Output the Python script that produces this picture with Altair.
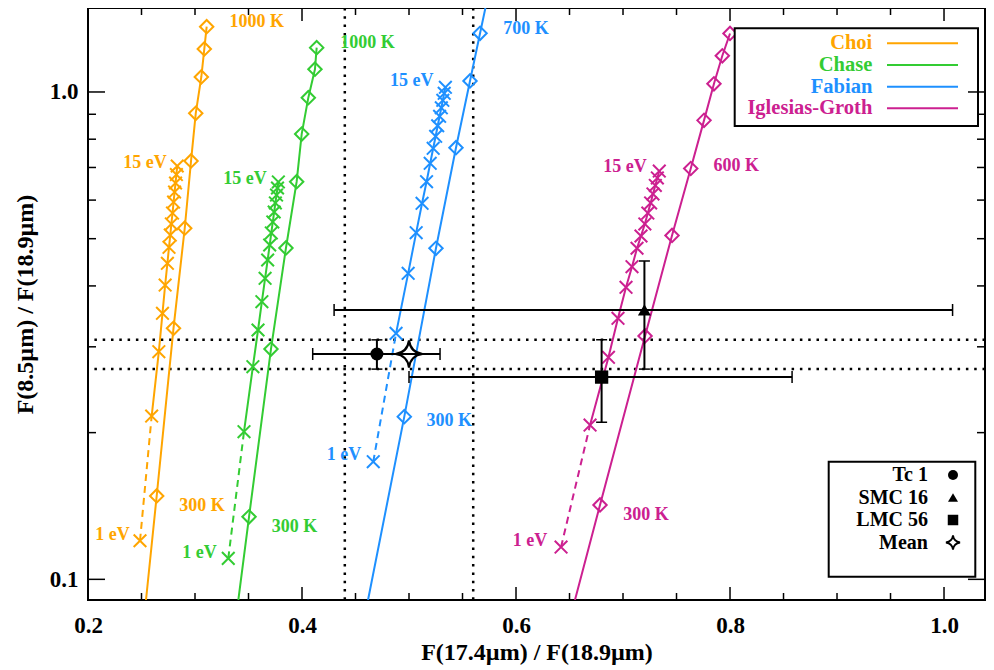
import altair as alt
import pandas as pd

SERIF = "Liberation Serif"

# ---------------- data ----------------
models = ["Choi", "Chase", "Fabian", "Iglesias-Groth"]
model_colors = ["#FFA500", "#33CC33", "#1E90FF", "#CC2090"]

ev_values = list(range(1, 16))
choi_ev_x = [0.2486, 0.2595, 0.2662, 0.2696, 0.2721, 0.2742, 0.2757, 0.2769, 0.2779, 0.2790, 0.2800, 0.2809, 0.2818, 0.2826, 0.2834]
choi_ev_y = [0.1200, 0.2163, 0.2932, 0.3514, 0.4017, 0.4451, 0.4801, 0.5087, 0.5360, 0.5645, 0.5946, 0.6233, 0.6505, 0.6770, 0.7049]
chase_ev_x = [0.3311, 0.3458, 0.3541, 0.3589, 0.3625, 0.3655, 0.3679, 0.3698, 0.3713, 0.3727, 0.3740, 0.3751, 0.3762, 0.3771, 0.3779]
chase_ev_y = [0.1104, 0.2009, 0.2731, 0.3248, 0.3713, 0.4147, 0.4521, 0.4853, 0.5137, 0.5411, 0.5672, 0.5919, 0.6146, 0.6353, 0.6536]
fabian_ev_x = [0.4666, 0.4879, 0.4992, 0.5067, 0.5122, 0.5164, 0.5198, 0.5226, 0.5249, 0.5268, 0.5286, 0.5302, 0.5316, 0.5329, 0.5340]
fabian_ev_y = [0.1743, 0.3197, 0.4245, 0.5144, 0.5910, 0.6545, 0.7140, 0.7665, 0.8111, 0.8525, 0.8916, 0.9281, 0.9616, 0.9938, 1.0224]
ig_ev_x = [0.6421, 0.6692, 0.6864, 0.6953, 0.7028, 0.7084, 0.7131, 0.7168, 0.7204, 0.7232, 0.7258, 0.7280, 0.7302, 0.7321, 0.7339]
ig_ev_y = [0.1165, 0.2073, 0.2855, 0.3432, 0.3974, 0.4380, 0.4779, 0.5064, 0.5360, 0.5645, 0.5919, 0.6177, 0.6429, 0.6661, 0.6884]

temps_1000 = [300, 400, 500, 600, 700, 800, 900, 1000]
temps_700 = [300, 400, 500, 600, 700]
choi_k_x = [0.2642, 0.2799, 0.2904, 0.2963, 0.3007, 0.3059, 0.3087, 0.3109]
choi_k_y = [0.1483, 0.3274, 0.5253, 0.7219, 0.9042, 1.0734, 1.2254, 1.3614]
chase_k_x = [0.3505, 0.3710, 0.3850, 0.3950, 0.3997, 0.4059, 0.4121, 0.4137]
chase_k_y = [0.1344, 0.2969, 0.4785, 0.6545, 0.8198, 0.9734, 1.1134, 1.2329]
fabian_k_x = [0.4956, 0.5252, 0.5439, 0.5570, 0.5664]
fabian_k_y = [0.2157, 0.4779, 0.7686, 1.0534, 1.3197]
ig_k_x = [0.6785, 0.7206, 0.7458, 0.7633, 0.7757, 0.7850, 0.7928, 0.8000]
ig_k_y = [0.1421, 0.3158, 0.5076, 0.6966, 0.8745, 1.0395, 1.1866, 1.3183]

# where the temperature lines leave the frame
kline_exit_bottom_x = [0.2542, 0.3405, 0.4617, 0.6551]
fabian_exit_top_x = 0.5714

x_domain = [0.2, 1.0383]
y_domain = [0.0907, 1.487]

obs_names = ["Tc 1", "SMC 16", "LMC 56", "Mean"]
obs_x = [0.470, 0.720, 0.680, 0.500]
obs_y = [0.290, 0.357, 0.260, 0.290]
err_names = ["Tc 1", "SMC 16", "LMC 56"]
err_xlo = [0.410, 0.430, 0.500]
err_xhi = [0.529, 1.008, 0.858]
err_ylo = [0.270, 0.270, 0.210]
err_yhi = [0.310, 0.450, 0.310]

mean_x_range = [0.44, 0.56]
mean_y_range = [0.27, 0.31]

ann_text = ["1000 K", "15 eV", "300 K", "1 eV",
            "1000 K", "15 eV", "300 K", "1 eV",
            "700 K", "15 eV", "300 K", "1 eV",
            "600 K", "15 eV", "300 K", "1 eV"]
ann_model = [m for m in models for _ in range(4)]
ann_x = [0.3577, 0.2533, 0.3065, 0.2229,
         0.4612, 0.3467, 0.3930, 0.3042,
         0.6093, 0.5025, 0.5377, 0.4393,
         0.8059, 0.7019, 0.7215, 0.6131]
ann_y = [1.394, 0.714, 0.1414, 0.1233,
         1.262, 0.663, 0.1278, 0.1131,
         1.345, 1.053, 0.2116, 0.1799,
         0.7049, 0.7026, 0.1358, 0.1199]

x_major = [0.2, 0.4, 0.6, 0.8, 1.0]
x_minor = [0.25, 0.3, 0.35, 0.45, 0.5, 0.55, 0.65, 0.7, 0.75, 0.85, 0.9, 0.95]
y_major = [0.1, 1.0]
y_minor = [0.2, 0.3, 0.4, 0.5, 0.6, 0.7, 0.8, 0.9]

# ---------------- tables ----------------
ev_rows = []
for m, xs_, ys_ in zip(models, [choi_ev_x, chase_ev_x, fabian_ev_x, ig_ev_x],
                       [choi_ev_y, chase_ev_y, fabian_ev_y, ig_ev_y]):
    for e, x, y in zip(ev_values, xs_, ys_):
        ev_rows.append({"model": m, "ev": e, "x": x, "y": y})
ev_df = pd.DataFrame(ev_rows)

k_rows = []
for m, ts, xs_, ys_ in zip(models, [temps_1000, temps_1000, temps_700, temps_1000],
                           [choi_k_x, chase_k_x, fabian_k_x, ig_k_x],
                           [choi_k_y, chase_k_y, fabian_k_y, ig_k_y]):
    for t, x, y in zip(ts, xs_, ys_):
        k_rows.append({"model": m, "T": t, "x": x, "y": y})
k_df = pd.DataFrame(k_rows)

kline_rows = list(k_rows)
for m, xb in zip(models, kline_exit_bottom_x):
    kline_rows.append({"model": m, "T": 0, "x": xb, "y": y_domain[0]})
kline_rows.append({"model": "Fabian", "T": 9999, "x": fabian_exit_top_x, "y": y_domain[1]})
kline_df = pd.DataFrame(kline_rows)

obs_df = pd.DataFrame({"name": obs_names, "x": obs_x, "y": obs_y})
err_df = pd.DataFrame({"name": err_names, "x": obs_x[:3], "y": obs_y[:3],
                       "xlo": err_xlo, "xhi": err_xhi, "ylo": err_ylo, "yhi": err_yhi})
ann_df = pd.DataFrame({"text": ann_text, "model": ann_model, "x": ann_x, "y": ann_y})
one = pd.DataFrame({"k": [0]})

# ---------------- encodings ----------------
W, H = 897, 592
xs = alt.Scale(domain=x_domain, nice=False, zero=False)
ys = alt.Scale(type="log", domain=y_domain, nice=False)
cs = alt.Scale(domain=models, range=model_colors)

xaxis = alt.Axis(values=x_major, format=".1f", ticks=False, domain=False, grid=False,
                 labelFont=SERIF, labelFontSize=23, labelFontWeight="bold", labelColor="black",
                 labelPadding=14, labelFlush=False,
                 title="F(17.4µm) / F(18.9µm)", titleFont=SERIF, titleFontSize=24,
                 titleFontWeight="bold", titleColor="black", titlePadding=3)
yaxis = alt.Axis(values=y_major, format=".1f", ticks=False, domain=False, grid=False,
                 labelFont=SERIF, labelFontSize=23, labelFontWeight="bold", labelColor="black",
                 labelPadding=10, labelFlush=False,
                 title="F(8.5µm) / F(18.9µm)", titleFont=SERIF, titleFontSize=24,
                 titleFontWeight="bold", titleColor="black", titlePadding=12)


def X(f="x"):
    return alt.X(f"{f}:Q", scale=xs, axis=xaxis)


def Y(f="y"):
    return alt.Y(f"{f}:Q", scale=ys, axis=yaxis)


C = alt.Color("model:N", scale=cs, legend=None)

X_SHAPE = "M-1,-1L1,1M-1,1L1,-1"
STAR = "M0,-1Q0.12,-0.12,1,0Q0.12,0.12,0,1Q-0.12,0.12,-1,0Q-0.12,-0.12,0,-1Z"

layers = []

# mean range dotted lines
dot = dict(color="black", strokeWidth=2.5, strokeDash=[2.5, 5.8])
layers.append(alt.Chart(pd.DataFrame({"v": mean_x_range})).mark_rule(**dot).encode(x=X("v")))
layers.append(alt.Chart(pd.DataFrame({"v": mean_y_range})).mark_rule(**dot).encode(y=Y("v")))

# model lines
layers.append(alt.Chart(kline_df).mark_line(strokeWidth=2, clip=True).encode(
    x=X(), y=Y(), color=C, order="T:Q"))
layers.append(alt.Chart(ev_df[ev_df.ev >= 2]).mark_line(strokeWidth=2, clip=True).encode(
    x=X(), y=Y(), color=C, order="ev:Q"))
layers.append(alt.Chart(ev_df[ev_df.ev <= 2]).mark_line(strokeWidth=2, strokeDash=[7, 5], clip=True).encode(
    x=X(), y=Y(), color=C, order="ev:Q"))

# model markers
layers.append(alt.Chart(ev_df).mark_point(shape=X_SHAPE, size=160, strokeWidth=2, filled=False, opacity=1).encode(
    x=X(), y=Y(), color=C))
layers.append(alt.Chart(k_df).mark_point(shape="diamond", size=180, strokeWidth=2, filled=False, opacity=1).encode(
    x=X(), y=Y(), color=C))

# error bars
eb = dict(color="black", strokeWidth=2)
layers.append(alt.Chart(err_df).mark_rule(**eb).encode(x=X("xlo"), x2="xhi:Q", y=Y()))
layers.append(alt.Chart(err_df).mark_rule(**eb).encode(x=X(), y=Y("ylo"), y2="yhi:Q"))
for f in ["xlo", "xhi"]:
    layers.append(alt.Chart(err_df).mark_tick(orient="vertical", size=12, thickness=1.5, color="black", opacity=1).encode(
        x=X(f), y=Y()))
for f in ["ylo", "yhi"]:
    layers.append(alt.Chart(err_df).mark_tick(orient="horizontal", size=11, thickness=1.5, color="black", opacity=1).encode(
        x=X(), y=Y(f)))

# observed points
obs_shapes = ["circle", "triangle-up", "square"]
obs_sizes = [169, 169, 177]
for name, shp, sz in zip(obs_names[:3], obs_shapes, obs_sizes):
    layers.append(alt.Chart(obs_df[obs_df.name == name]).mark_point(
        shape=shp, size=sz, filled=True, color="black", opacity=1).encode(x=X(), y=Y()))
layers.append(alt.Chart(obs_df[obs_df.name == "Mean"]).mark_point(
    shape=STAR, size=729, filled=False, color="black", strokeWidth=2.2, opacity=1).encode(x=X(), y=Y()))

# annotations
layers.append(alt.Chart(ann_df).mark_text(font=SERIF, fontWeight="bold", fontSize=18,
                                          align="center", baseline="middle").encode(
    x=X(), y=Y(), text="text:N", color=C))

# legend: models
layers.append(alt.Chart(one).mark_rect(fill="white", stroke="black", strokeWidth=2).encode(
    x=alt.value(646.7), x2=alt.value(890), y=alt.value(20.3), y2=alt.value(118)))
for i, (m, col) in enumerate(zip(models, model_colors)):
    ry = 35.3 + i * 21.67
    layers.append(alt.Chart(one).mark_text(text=m, font=SERIF, fontWeight="bold", fontSize=20.5,
                                           align="right", baseline="middle", color=col).encode(
        x=alt.value(784.3), y=alt.value(ry)))
    layers.append(alt.Chart(one).mark_rule(color=col, strokeWidth=2).encode(
        x=alt.value(799), x2=alt.value(870), y=alt.value(ry)))

# legend: observations
layers.append(alt.Chart(one).mark_rect(fill="white", stroke="black", strokeWidth=2).encode(
    x=alt.value(740.7), x2=alt.value(887.3), y=alt.value(453.7), y2=alt.value(568.7)))
leg_shapes = ["circle", "triangle-up", "square", STAR]
leg_sizes = [100, 100, 110, 200]
leg_fill = [True, True, True, False]
for i, (n, shp, sz, fl) in enumerate(zip(obs_names, leg_shapes, leg_sizes, leg_fill)):
    ry = 467 + i * 22.5
    layers.append(alt.Chart(one).mark_text(text=n, font=SERIF, fontWeight="bold", fontSize=20,
                                           align="right", baseline="middle", color="black").encode(
        x=alt.value(840), y=alt.value(ry)))
    layers.append(alt.Chart(one).mark_point(shape=shp, size=sz, filled=fl, color="black",
                                            strokeWidth=1.8, opacity=1).encode(
        x=alt.value(865), y=alt.value(ry)))


# inward ticks on all four sides
def xticks(vals, L):
    d = pd.DataFrame({"v": vals})
    return [
        alt.Chart(d).mark_rule(color="black", strokeWidth=1.5).encode(x=X("v"), y=alt.value(H), y2=alt.value(H - L)),
        alt.Chart(d).mark_rule(color="black", strokeWidth=1.5).encode(x=X("v"), y=alt.value(0), y2=alt.value(L)),
    ]


def yticks(vals, L):
    d = pd.DataFrame({"v": vals})
    return [
        alt.Chart(d).mark_rule(color="black", strokeWidth=1.5).encode(y=Y("v"), x=alt.value(0), x2=alt.value(L)),
        alt.Chart(d).mark_rule(color="black", strokeWidth=1.5).encode(y=Y("v"), x=alt.value(W), x2=alt.value(W - L)),
    ]


layers += xticks(x_major, 13) + xticks(x_minor, 7) + yticks(y_major, 17) + yticks(y_minor, 8)

chart = alt.layer(*layers).properties(
    width=W, height=H,
    padding={"left": 80, "top": 0, "right": 1, "bottom": 68},
    autosize=alt.AutoSizeParams(type="none"),
).configure_view(stroke="black", strokeWidth=2)

chart.save("out.html", embed_options={"renderer": "svg", "actions": False})
